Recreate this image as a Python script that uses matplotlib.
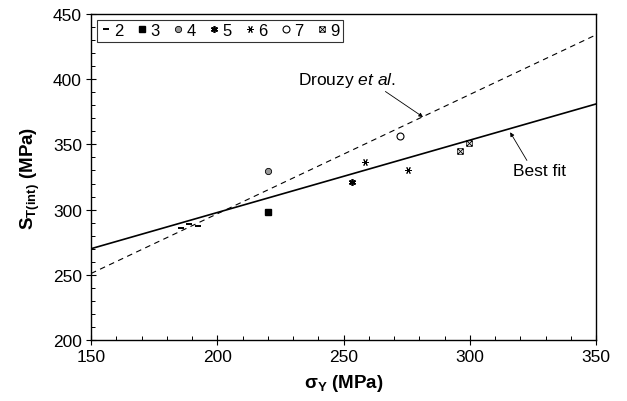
import matplotlib
matplotlib.use("Agg")
import matplotlib.pyplot as plt
import numpy as np
from matplotlib.path import Path
from matplotlib.ticker import MultipleLocator

plt.rcParams['font.family'] = ['Liberation Sans', 'DejaVu Sans']
plt.rcParams['mathtext.fontset'] = 'custom'
plt.rcParams['mathtext.rm'] = 'Liberation Sans'
plt.rcParams['mathtext.bf'] = 'Liberation Sans:bold'
plt.rcParams['mathtext.it'] = 'Liberation Sans:italic'

# ---- data ----
s2_x = [185.5, 188.9, 192.5]
s2_y = [285.7, 288.7, 287.2]
s3_x = [220.0]
s3_y = [298.0]
s4_x = [220.0]
s4_y = [329.6]
s5_x = [253.2]
s5_y = [320.9]
s6_x = [258.5, 275.7]
s6_y = [336.3, 330.6]
s7_x = [272.4]
s7_y = [356.7]
s9_x = [296.1, 299.8]
s9_y = [345.2, 351.1]

fit_x = [150, 350]
fit_y = [270.0, 381.0]
drouzy_x = [150, 350]
drouzy_y = [251.0, 434.0]

series_labels = ['2', '3', '4', '5', '6', '7', '9']

# square-with-X marker
box_x = Path([(-1, -1), (1, -1), (1, 1), (-1, 1), (-1, -1),
              (-1, -1), (1, 1), (-1, 1), (1, -1)],
             [Path.MOVETO, Path.LINETO, Path.LINETO, Path.LINETO, Path.CLOSEPOLY,
              Path.MOVETO, Path.LINETO, Path.MOVETO, Path.LINETO])

fig = plt.figure(figsize=(6.27, 4.02), dpi=100)
ax = fig.add_axes([91/627, 1 - 341/402, (596-91)/627, (341-15)/402])

ax.plot(fit_x, fit_y, color='black', lw=1.2, zorder=2)
ax.plot(drouzy_x, drouzy_y, color='black', lw=0.8, ls=(0, (5, 4)), zorder=2)

h2, = ax.plot(s2_x, s2_y, ls='none', marker='_', ms=5, mew=1.4, color='black', label=series_labels[0])
h3, = ax.plot(s3_x, s3_y, ls='none', marker='s', ms=5, color='black', label=series_labels[1])
h4, = ax.plot(s4_x, s4_y, ls='none', marker='o', ms=4.5, mfc='#999999', mec='black', mew=0.6, label=series_labels[2])
h5, = ax.plot(s5_x, s5_y, ls='none', marker=(6, 2, 0), ms=5, mew=1.2, color='black', label=series_labels[3])
h6, = ax.plot(s6_x, s6_y, ls='none', marker=(6, 2, 90), ms=5, mew=0.7, color='black', label=series_labels[4])
h7, = ax.plot(s7_x, s7_y, ls='none', marker='o', ms=5, mfc='white', mec='black', mew=0.8, label=series_labels[5])
h9, = ax.plot(s9_x, s9_y, ls='none', marker=box_x, ms=4, mfc='none', mec='black', mew=0.6, label=series_labels[6])

ax.set_xlim(150, 350)
ax.set_ylim(200, 450)
ax.xaxis.set_major_locator(MultipleLocator(50))
ax.xaxis.set_minor_locator(MultipleLocator(10))
ax.yaxis.set_major_locator(MultipleLocator(50))
ax.yaxis.set_minor_locator(MultipleLocator(10))
ax.tick_params(which='major', direction='inout', length=7, width=0.8, labelsize=12.5, pad=3)
ax.tick_params(which='minor', direction='in', length=3, width=0.7)
for sp in ax.spines.values():
    sp.set_linewidth(1.0)

ax.set_xlabel('σ$_{\\mathbf{Y}}$ (MPa)', fontsize=13.5, fontweight='bold', labelpad=6)
ax.set_ylabel(r'$\mathbf{S}_{\mathbf{T(int)}}$ (MPa)', fontsize=13.5, fontweight='bold', labelpad=8)

ax.annotate(r'Drouzy $et\ al$.', xy=(281.5, 371), xytext=(232, 400),
            fontsize=12.5, va='center', ha='left',
            arrowprops=dict(arrowstyle='-|>', color='black', lw=0.6, mutation_scale=6,
                            shrinkA=0, shrinkB=0, relpos=(0.85, 0)))
ax.annotate('Best fit', xy=(316, 359.3), xytext=(317, 329.8),
            fontsize=12.5, va='center', ha='left',
            arrowprops=dict(arrowstyle='-|>', color='black', lw=0.6, mutation_scale=6,
                            shrinkA=0, shrinkB=0, relpos=(0.3, 1)))

leg = ax.legend(handles=[h2, h3, h4, h5, h6, h7, h9], loc='upper left', ncol=7,
                fontsize=12, frameon=True, fancybox=False, edgecolor='black',
                handlelength=0.7, handletextpad=0.15, columnspacing=0.75,
                borderpad=0.2, borderaxespad=0.35, numpoints=1)
leg.get_frame().set_linewidth(0.8)

fig.savefig('out.png', dpi=100)
